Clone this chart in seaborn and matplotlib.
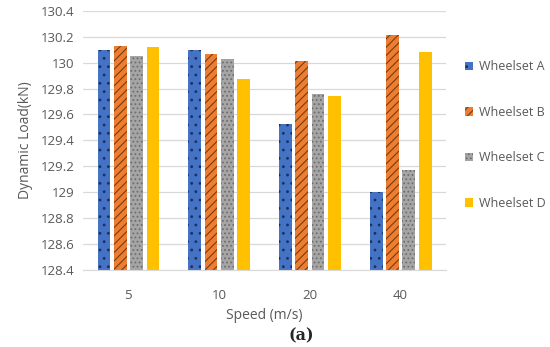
#dynamic load by speed and wheelset
import seaborn as sns
import matplotlib.pyplot as plt
import pandas as pd

speeds = ['5', '10', '20', '40']
wheelsets = ['Wheelset A', 'Wheelset B', 'Wheelset C', 'Wheelset D']
load_a = [130.10, 130.10, 129.53, 129.00]
load_b = [130.13, 130.07, 130.01, 130.21]
load_c = [130.05, 130.03, 129.76, 129.17]
load_d = [130.12, 129.87, 129.74, 130.08]

colors = ['#4472C4', '#ED7D31', '#A5A5A5', '#FFC000']
hatches = ['..', '////', '....', '']
hatch_cols = ['#1F2F5A', '#7A3B10', '#6E6E6E', '#FFC000']

rows = []
for name, vals in zip(wheelsets, [load_a, load_b, load_c, load_d]):
    for s, v in zip(speeds, vals):
        rows.append({'speed': s, 'wheelset': name, 'load': v})
df = pd.DataFrame(rows)

sns.set_style('white')
plt.rcParams['font.family'] = ['Open Sans', 'DejaVu Sans']
plt.rcParams['hatch.linewidth'] = 0.8

fig = plt.figure(figsize=(5.5, 3.47), dpi=100)
ax = fig.add_axes([0.151, 0.222, 0.66, 0.747])

# bars run from zero, the y limits cut them at 128.4 like the original
sns.barplot(x='speed', y='load', hue='wheelset', data=df, order=speeds,
            hue_order=wheelsets, palette=colors, width=0.72, gap=0.22,
            saturation=1, linewidth=0, ax=ax, legend=False)

for i, cont in enumerate(ax.containers):
    for p in cont:
        p.set_hatch(hatches[i])
        p.set_edgecolor(hatch_cols[i])
        p.set_linewidth(0)

ax.set_xlim(-0.5, len(speeds) - 0.5)
ax.set_ylim(128.4, 130.4)
ax.set_yticks([128.4 + 0.2 * k for k in range(11)])
ax.set_yticklabels(['128.4', '128.6', '128.8', '129', '129.2', '129.4',
                    '129.6', '129.8', '130', '130.2', '130.4'])
ax.yaxis.grid(True, color='#D9D9D9', linewidth=0.9)
ax.set_axisbelow(True)
for sp in ['top', 'right', 'left']:
    ax.spines[sp].set_visible(False)
ax.spines['bottom'].set_color('#D9D9D9')
ax.tick_params(axis='both', length=0, labelsize=9.5, colors='#595959', pad=6)
ax.tick_params(axis='x', pad=14)

ax.set_xlabel('Speed (m/s)', fontsize=10, color='#595959', labelpad=4)
ax.set_ylabel('Dynamic Load(kN)', fontsize=10, color='#595959', labelpad=6)

handles = [c.patches[0] for c in ax.containers]
ax.legend(handles, wheelsets, loc='center left', bbox_to_anchor=(1.02, 0.52),
          frameon=False, fontsize=9, labelcolor='#595959', labelspacing=2.6,
          handlelength=0.7, handleheight=0.7, handletextpad=0.45)

fig.text(0.548, 0.018, '(a)', ha='center', fontsize=11.5, fontweight='bold',
         fontfamily='serif')

plt.savefig('out.png', dpi=100)
